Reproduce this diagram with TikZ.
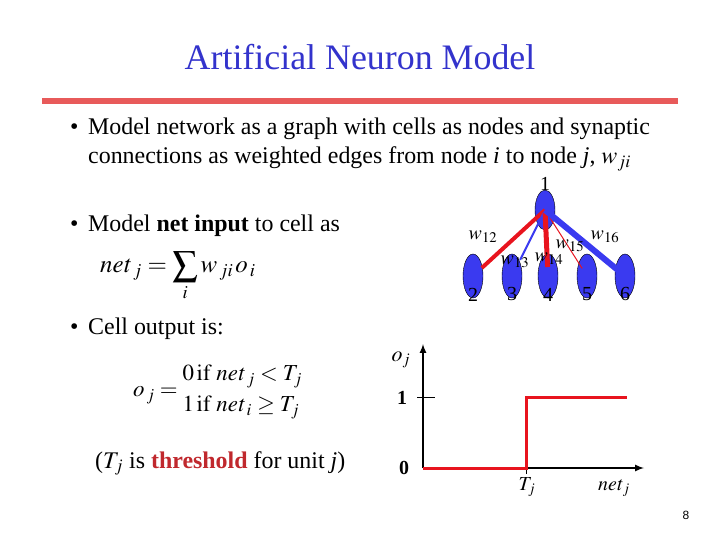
\documentclass[tikz,border=0pt]{standalone}
\usepackage{mathptmx}
\usepackage{fontspec}
\setmainfont{Liberation Serif}
\newfontfamily\pagefont{Liberation Sans}
\usetikzlibrary{arrows,positioning,shapes.geometric,calc}
\definecolor{titleblue}{HTML}{3333CC}
\definecolor{rulered}{HTML}{E85A5A}
\definecolor{edgered}{HTML}{E8141E}
\definecolor{cellblue}{HTML}{3A3AF0}
\definecolor{darkred}{HTML}{C0282D}

\begin{document}
\begin{tikzpicture}[x=1bp, y=-1bp,
    txt/.style={anchor=base west, inner sep=0pt, font=\fontsize{24}{29}\selectfont},
    cell/.style={ellipse, draw=black, fill=cellblue, minimum width=20bp, minimum height=44bp, inner sep=0pt},
    cellnum/.style={anchor=south, inner sep=0pt, font=\fontsize{20}{20}\selectfont},
    wlab/.style={inner sep=0pt, font=\fontsize{20}{20}\selectfont}]
    \useasboundingbox (0,0) rectangle (720,540);

    % Title and rule
    \node[inner sep=0pt, anchor=base, text=titleblue, font=\fontsize{36}{36}\selectfont] (title) at (360, 70) {Artificial Neuron Model};
    \draw[rulered, line width=6bp] (42, 101) -- (678, 101);

    % Bullets
    \node[txt] (b1) at (70, 135) {\textbullet};
    \node[txt] (t1) at (88, 135) {Model network as a graph with cells as nodes and synaptic};
    \node[txt] (t1b) at (88, 164) {connections as weighted edges from node \textit{i} to node \textit{j}, $w_{ji}$};
    \node[txt] (b2) at (70, 232) {\textbullet};
    \node[txt] (t2) at (88, 232) {Model \textbf{net} \textbf{input} to cell as};
    \node[txt] (b3) at (70, 334) {\textbullet};
    \node[txt] (t3) at (88, 334) {Cell output is:};

    % Formulas
    \node[anchor=west, inner sep=0pt, font=\fontsize{25}{28}\selectfont] (neteq) at (100, 276) {$\mathit{net}_{\,j}=\displaystyle\sum_i w_{\,ji\,}o_{\,i}$};
    \node[anchor=west, inner sep=0pt, font=\fontsize{23}{26}\selectfont] (outeq) at (133, 391)
      {$o_{\,j}=\begin{array}{@{}l@{}}\mathrm{0\,if}\ \mathit{net}_{\,j}<T_j\\[5bp] \mathrm{1\,if}\ \mathit{net}_{\,i}\ge T_j\end{array}$};
    \node[txt] (thr) at (95, 468) {($T_j$ is \textcolor{darkred}{\textbf{threshold}} for unit \textit{j})};

    % Network of cells
    \node[cell, minimum height=40bp] (n1) at (545, 210) {};
    \node[inner sep=0pt, font=\fontsize{20}{20}\selectfont] (l1) at (545, 184) {1};
    \foreach \k/\xx in {2/473, 3/512, 4/548, 5/587, 6/625} {
      \node[cell] (n\k) at (\xx, 276) {};
      \node[cellnum] (l\k) at ($(n\k.south)+(0,3)$) {\k};
    }
    \draw[edgered, line width=4bp, shorten >=12bp] (n1.center) -- (n2.center);
    \draw[cellblue, line width=2bp, shorten >=18bp] (n1.center) -- (n3.center);
    \draw[edgered, line width=5bp, shorten >=9bp] (n1.center) -- (n4.center);
    \draw[edgered, line width=1bp, shorten >=9bp] (n1.center) -- (n5.center);
    \draw[cellblue, line width=6bp, shorten >=9bp] (n1.center) -- (n6.center);
    \node[wlab] (w12) at (483, 237) {$w_{12}$};
    \node[wlab] (w13) at (515, 262) {$w_{13}$};
    \node[wlab] (w14) at (549, 259) {$w_{14}$};
    \node[wlab] (w15) at (570, 246) {$w_{15}$};
    \node[wlab] (w16) at (605, 237) {$w_{16}$};

    % Step function plot
    \coordinate (orig) at (423, 468);
    \coordinate (ytop) at (423, 344);
    \coordinate (xend) at (644, 468);
    \draw[-latex, line width=2bp] (orig) -- (ytop);
    \draw[-latex, line width=2bp] (orig) -- (xend);
    \draw[line width=1bp] (417, 397) -- (435, 397);
    \draw[line width=0.6bp] (526, 468) -- (526, 474);
    \draw[edgered, line width=3bp] (orig) -- (526, 468) -- (526, 397) -- (627, 397);
    \node[inner sep=0pt, font=\fontsize{22}{22}\selectfont] (oj) at (401, 360) {$o_j$};
    \node[inner sep=0pt, font=\fontsize{20}{20}\selectfont\bfseries] (one) at (402, 398) {1};
    \node[inner sep=0pt, font=\fontsize{20}{20}\selectfont\bfseries] (zero) at (404, 468) {0};
    \node[inner sep=0pt, font=\fontsize{20}{20}\selectfont] (tj) at (527, 487) {$T_j$};
    \node[inner sep=0pt, font=\fontsize{20}{20}\selectfont] (netj) at (614, 488) {$\mathit{net}_j$};

    % Page number
    \node[inner sep=0pt, font=\pagefont\fontsize{12}{12}\selectfont] (pg) at (686, 515) {8};
\end{tikzpicture}
\end{document}
